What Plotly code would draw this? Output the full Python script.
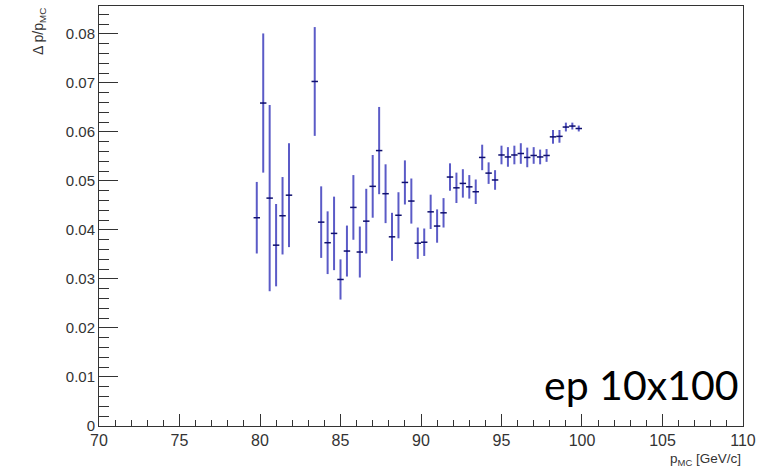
import plotly.graph_objects as go

p_mc = [79.8, 80.2, 80.6, 81.0, 81.4, 81.8, 83.4, 83.8, 84.2, 84.6, 85.0, 85.4, 85.8, 86.2,
        86.6, 87.0, 87.4, 87.8, 88.2, 88.6, 89.0, 89.4, 89.8, 90.2, 90.6, 91.0, 91.4, 91.8,
        92.2, 92.6, 93.0, 93.4, 93.8, 94.2, 94.6, 95.0, 95.4, 95.8, 96.2, 96.6, 97.0, 97.4,
        97.8, 98.2, 98.6, 99.0, 99.4, 99.8]
resolution = [0.0425, 0.0659, 0.0465, 0.0369, 0.0429, 0.0471, 0.0703, 0.0416, 0.0374, 0.0393,
              0.0299, 0.0357, 0.0446, 0.0355, 0.0418, 0.0489, 0.0562, 0.0474, 0.0386, 0.0430,
              0.0497, 0.0459, 0.0373, 0.0375, 0.0437, 0.0408, 0.0435, 0.0508, 0.0486, 0.0495,
              0.0488, 0.0478, 0.0548, 0.0516, 0.0502, 0.0553, 0.0549, 0.0553, 0.0556, 0.0548,
              0.0552, 0.0549, 0.0552, 0.0590, 0.0591, 0.0610, 0.0612, 0.0607]
res_err = [0.0073, 0.0142, 0.0190, 0.0084, 0.0079, 0.0106, 0.0111, 0.0073, 0.0064, 0.0075,
           0.0041, 0.0052, 0.0066, 0.0052, 0.0066, 0.0064, 0.0089, 0.0060, 0.0049, 0.0047,
           0.0045, 0.0046, 0.0032, 0.0028, 0.0035, 0.0034, 0.0030, 0.0028, 0.0031, 0.0029,
           0.0024, 0.0025, 0.0026, 0.0022, 0.0020, 0.0019, 0.0020, 0.0019, 0.0021, 0.0020,
           0.0017, 0.0015, 0.0013, 0.0014, 0.0013, 0.0009, 0.0007, 0.0006]
bin_half_width = [0.2] * len(p_mc)

x_tick_vals = [70, 75, 80, 85, 90, 95, 100, 105, 110]
x_tick_text = ["70", "75", "80", "85", "90", "95", "100", "105", "110"]
y_tick_vals = [0, 0.01, 0.02, 0.03, 0.04, 0.05, 0.06, 0.07, 0.08]
y_tick_text = ["0", "0.01", "0.02", "0.03", "0.04", "0.05", "0.06", "0.07", "0.08"]

fig = go.Figure()
fig.add_trace(go.Scatter(
    x=p_mc, y=resolution, mode="markers",
    marker=dict(size=1, color="rgb(20,20,120)"),
    error_y=dict(type="data", array=res_err, visible=True, color="rgba(50,50,185,0.8)",
                 thickness=2, width=0),
    error_x=dict(type="data", array=bin_half_width, visible=True, color="rgb(15,15,110)",
                 thickness=1.5, width=0),
    showlegend=False,
))

axis_font = dict(family="Liberation Sans, Arial, sans-serif", color="#333")
fig.update_layout(
    width=761, height=469,
    margin=dict(l=99, r=11, t=5, b=43),
    paper_bgcolor="white", plot_bgcolor="white",
    xaxis=dict(range=[70, 110.0005], tickvals=x_tick_vals, ticktext=x_tick_text,
               ticks="inside", ticklen=12,
               tickcolor="#333", tickwidth=1, showgrid=False, zeroline=False,
               showline=True, linecolor="#333", linewidth=1, mirror=True,
               tickfont=dict(size=16, **axis_font), ticklabeloverflow="allow",
               minor=dict(dtick=1, ticks="inside", ticklen=6, tickcolor="#333", showgrid=False)),
    yaxis=dict(range=[0, 0.0857], tickvals=y_tick_vals, ticktext=y_tick_text, ticks="inside",
               ticklen=19, tickcolor="#333", tickwidth=1, showgrid=False, zeroline=False,
               showline=True, linecolor="#333", linewidth=1, mirror=True,
               tickfont=dict(size=15, **axis_font),
               minor=dict(dtick=0.002, ticks="inside", ticklen=10, tickcolor="#333", showgrid=False)),
    annotations=[
        dict(text="Δ p/p<sub>MC</sub>", xref="paper", yref="paper", x=-0.094, y=1.0,
             xanchor="center", yanchor="top", textangle=-90, showarrow=False,
             font=dict(size=14, **axis_font)),
        dict(text="p<sub>MC</sub> [GeV/c]", xref="paper", yref="paper", x=1.0, y=-0.054,
             xanchor="right", yanchor="top", showarrow=False,
             font=dict(size=13.5, **axis_font)),
        dict(text="ep 10x100", xref="paper", yref="paper", x=0.996, y=0.098,
             xanchor="right", yanchor="middle", showarrow=False,
             font=dict(size=41, family="Lato, Open Sans, sans-serif", color="black")),
    ],
)

fig.write_html("out.html")
